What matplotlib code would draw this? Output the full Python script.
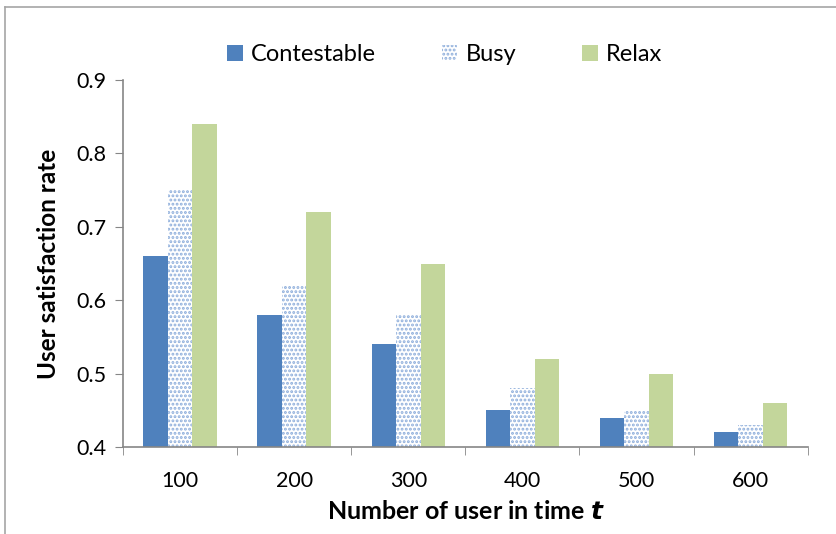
import matplotlib.pyplot as plt
from matplotlib.lines import Line2D
import numpy as np

plt.rcParams['font.family'] = ['Lato', 'DejaVu Sans']
plt.rcParams['hatch.linewidth'] = 1.4

users = ["100", "200", "300", "400", "500", "600"]
contestable = [0.66, 0.58, 0.54, 0.45, 0.44, 0.42]
busy = [0.75, 0.62, 0.58, 0.48, 0.45, 0.43]
relax = [0.84, 0.72, 0.65, 0.52, 0.50, 0.46]

fig = plt.figure(figsize=(8.37, 5.34), dpi=100)
ax = fig.add_axes([0.147, 0.163, 0.818, 0.687])

x = np.arange(len(users))
w = 0.215
ax.bar(x - w, contestable, w, color="#4F81BD", label="Contestable")
plt.rcParams['hatch.color'] = "#8EAEDB"
ax.bar(x, busy, w, color="white", hatch="....", edgecolor="#8EAEDB", linewidth=0,
       label="Busy")
ax.bar(x + w, relax, w, color="#C3D69B", label="Relax")

ax.set_ylim(0.4, 0.9)
ax.set_yticks([0.4, 0.5, 0.6, 0.7, 0.8, 0.9])
ax.set_yticklabels(["0.4", "0.5", "0.6", "0.7", "0.8", "0.9"])
ax.set_xlim(-0.5, len(users) - 0.5)
ax.set_xticks(x)
ax.set_xticklabels(users)
ax.set_xticks(np.arange(len(users) + 1) - 0.5, minor=True)
ax.tick_params(axis="x", which="major", length=0, pad=17, labelsize=15.5)
ax.tick_params(axis="x", which="minor", length=6, color="#868686")
ax.tick_params(axis="y", length=6, color="#868686", labelsize=15.5, pad=6)

for s in ["top", "right"]:
    ax.spines[s].set_visible(False)
for s in ["left", "bottom"]:
    ax.spines[s].set_color("#868686")
    ax.spines[s].set_linewidth(1.2)

ax.set_ylabel("User satisfaction rate", fontsize=17.5, fontweight="bold", labelpad=12)
ax.set_xlabel("Number of user in time $\\boldsymbol{t}$", fontsize=18,
              fontweight="bold", labelpad=7)

ax.legend(loc="upper center", bbox_to_anchor=(0.47, 1.155), ncol=3, frameon=False,
          fontsize=17, handlelength=0.65, handleheight=0.65, columnspacing=2.8,
          handletextpad=0.35)

fig.add_artist(Line2D([5 / 837, 5 / 837], [0, 1 - 7 / 534], color="#A6A6A6", lw=1.2))
fig.add_artist(Line2D([5 / 837, 1], [1 - 7 / 534, 1 - 7 / 534], color="#A6A6A6", lw=1.2))

fig.savefig("out.png", dpi=100)
